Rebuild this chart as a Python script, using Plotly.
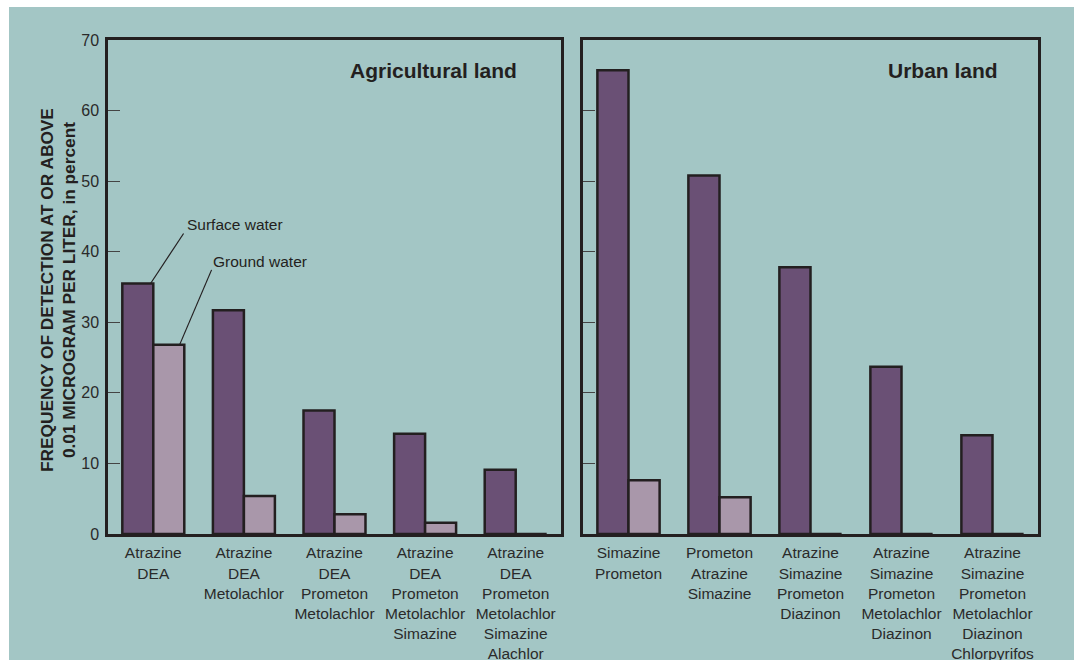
import plotly.graph_objects as go

W, H = 1074, 660

ag_categories = ["Atrazine<br>DEA", "Atrazine<br>DEA<br>Metolachlor",
                 "Atrazine<br>DEA<br>Prometon<br>Metolachlor",
                 "Atrazine<br>DEA<br>Prometon<br>Metolachlor<br>Simazine",
                 "Atrazine<br>DEA<br>Prometon<br>Metolachlor<br>Simazine<br>Alachlor"]
ag_surface = [35.5, 31.7, 17.5, 14.2, 9.1]
ag_ground = [26.8, 5.4, 2.8, 1.6, 0]

ur_categories = ["Simazine<br>Prometon", "Prometon<br>Atrazine<br>Simazine",
                 "Atrazine<br>Simazine<br>Prometon<br>Diazinon",
                 "Atrazine<br>Simazine<br>Prometon<br>Metolachlor<br>Diazinon",
                 "Atrazine<br>Simazine<br>Prometon<br>Metolachlor<br>Diazinon<br>Chlorpyrifos"]
ur_surface = [65.7, 50.8, 37.8, 23.7, 14.0]
ur_ground = [7.6, 5.2, 0, 0, 0]

y_ticks = [0, 10, 20, 30, 40, 50, 60, 70]

BG = "#A3C6C5"
DARK = "#231F20"
SURF = "#6A5075"
GRND = "#A997AA"
FONT = "Liberation Sans, Arial, sans-serif"

fig = go.Figure()
line = dict(color=DARK, width=2.5)
fig.add_trace(go.Bar(x=ag_categories, y=ag_surface, name="Surface water",
                     marker=dict(color=SURF, line=line), xaxis="x", yaxis="y"))
fig.add_trace(go.Bar(x=ag_categories, y=ag_ground, name="Ground water",
                     marker=dict(color=GRND, line=line), xaxis="x", yaxis="y"))
fig.add_trace(go.Bar(x=ur_categories, y=ur_surface, name="Surface water",
                     marker=dict(color=SURF, line=line), xaxis="x2", yaxis="y2"))
fig.add_trace(go.Bar(x=ur_categories, y=ur_ground, name="Ground water",
                     marker=dict(color=GRND, line=line), xaxis="x2", yaxis="y2"))

def px_x(p):
    return p / W

def px_y(p):
    return 1 - p / H

ydom = [px_y(534), px_y(40)]
xcommon = dict(showline=True, linecolor=DARK, linewidth=2.5, mirror=True,
               ticks="", showgrid=False, zeroline=False, automargin=False,
               ticklabelstandoff=3,
               tickfont=dict(family=FONT, size=15.5, color="#2a2a2a"),
               fixedrange=True)
ycommon = dict(range=[0, 70], tickvals=y_ticks, showline=True, linecolor=DARK,
               linewidth=2.5, mirror=True, ticks="inside", ticklen=12,
               tickcolor="#444", tickwidth=1, showgrid=False, zeroline=False,
               automargin=False, ticklabelstandoff=3, fixedrange=True,
               tickfont=dict(family=FONT, size=16, color="#2a2a2a"))

fig.update_layout(
    width=W, height=H,
    margin=dict(l=0, r=0, t=0, b=0, autoexpand=False),
    paper_bgcolor="white", plot_bgcolor=BG,
    showlegend=False, hovermode=False,
    barmode="group", bargap=0.316, bargroupgap=0,
    xaxis=dict(domain=[px_x(108), px_x(561)], anchor="y", **xcommon),
    yaxis=dict(domain=ydom, anchor="x", **ycommon),
    xaxis2=dict(domain=[px_x(583), px_x(1038)], anchor="y2", **xcommon),
    yaxis2=dict(domain=ydom, anchor="x2", showticklabels=False, **ycommon),
    shapes=[
        dict(type="rect", xref="paper", yref="paper", x0=px_x(9), x1=1,
             y0=0, y1=px_y(7), fillcolor=BG, line=dict(width=0), layer="below"),
        # leader lines
        dict(type="line", xref="x", yref="y", xsizemode="pixel", ysizemode="pixel",
             xanchor=-0.03, yanchor=ag_surface[0], x0=0, y0=0, x1=33, y1=50,
             line=dict(color=DARK, width=1.2)),
        dict(type="line", xref="x", yref="y", xsizemode="pixel", ysizemode="pixel",
             xanchor=0.29, yanchor=ag_ground[0], x0=0, y0=0, x1=32, y1=75,
             line=dict(color=DARK, width=1.2)),
    ],
    annotations=[
        dict(text="<b>Agricultural land</b>", xref="paper", yref="paper",
             x=px_x(519), y=px_y(71), xanchor="right", yanchor="middle",
             showarrow=False, font=dict(family=FONT, size=21, color=DARK)),
        dict(text="<b>Urban land</b>", xref="paper", yref="paper",
             x=px_x(1000), y=px_y(71), xanchor="right", yanchor="middle",
             showarrow=False, font=dict(family=FONT, size=21, color=DARK)),
        dict(text="<b>FREQUENCY OF DETECTION AT OR ABOVE<br>0.01 MICROGRAM PER LITER, in percent</b>",
             xref="paper", yref="paper", x=px_x(58), y=px_y(290), textangle=-90,
             xanchor="center", yanchor="middle", showarrow=False,
             font=dict(family=FONT, size=17.3, color=DARK)),
        dict(text="Surface water", xref="x", yref="y", x=-0.03, y=ag_surface[0],
             xanchor="left", yanchor="middle", xshift=34, yshift=59,
             showarrow=False, font=dict(family=FONT, size=15.5, color=DARK)),
        dict(text="Ground water", xref="x", yref="y", x=0.29, y=ag_ground[0],
             xanchor="left", yanchor="middle", xshift=31, yshift=83,
             showarrow=False, font=dict(family=FONT, size=15.5, color=DARK)),
    ],
)

fig.write_html(
    "out.html",
    config={"displayModeBar": False},
    post_script="document.body.style.margin='0';document.body.style.overflow='hidden';",
)
